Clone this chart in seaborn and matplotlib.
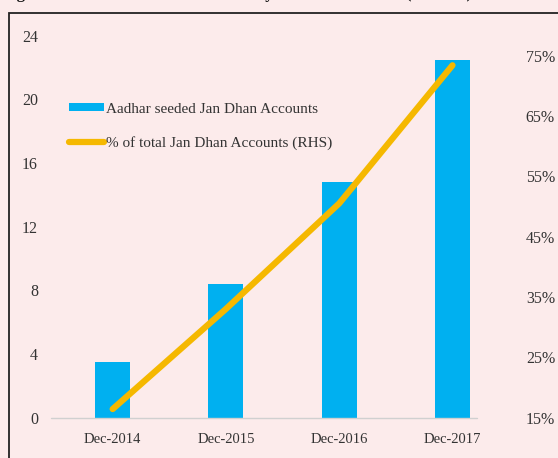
import numpy as np
import pandas as pd
import seaborn as sns
import matplotlib.pyplot as plt
from matplotlib.lines import Line2D
from matplotlib.patches import Patch, Rectangle
from matplotlib.ticker import FuncFormatter

# data
periods = ["Dec-2014", "Dec-2015", "Dec-2016", "Dec-2017"]
seeded_crore = [3.5, 8.4, 14.8, 22.5]
pct_of_total = [16.4, 33.0, 50.5, 73.4]
left_ticks = [0, 4, 8, 12, 16, 20, 24]
right_ticks = [15, 25, 35, 45, 55, 65, 75]

BG = "#FCEBEB"
BLUE = "#00B0F0"
GOLD = "#F5B800"
TXT = "#333333"

sns.set_theme(style="white")
plt.rcParams["font.family"] = ["Liberation Serif", "DejaVu Serif"]
plt.rcParams["text.color"] = TXT

df = pd.DataFrame({"period": periods, "seeded": seeded_crore, "pct": pct_of_total})
df["pos"] = np.arange(len(df))

fig = plt.figure(figsize=(5.58, 4.58), dpi=100, facecolor=BG)
ax = fig.add_axes([0.1004, 0.0884, 0.812, 0.8336])
ax.set_facecolor(BG)

sns.barplot(data=df, x="pos", y="seeded", color=BLUE, saturation=1,
            width=0.31, ax=ax, native_scale=True, linewidth=0)
ax.set_xlim(-0.5, len(df) - 0.5)
ax.set_ylim(0, 24)
ax.set_yticks(left_ticks)
ax.set_xticks(df["pos"])
ax.set_xticklabels(periods)
ax.set_xlabel("")
ax.set_ylabel("")
for s in ax.spines.values():
    s.set_visible(False)
ax.axhline(0, xmin=-0.01, xmax=0.93, color="#D0D0D0", lw=1, clip_on=False)
ax.tick_params(axis="y", length=0, pad=13, labelsize=11.5, labelcolor=TXT)
ax.tick_params(axis="x", length=0, pad=11, labelsize=10.5, labelcolor=TXT)

ax2 = ax.twinx()
sns.lineplot(data=df, x="pos", y="pct", color=GOLD, lw=4.5, ax=ax2,
             solid_capstyle="round")
ax2.set_ylim(15, 78.3)
ax2.set_yticks(right_ticks)
ax2.yaxis.set_major_formatter(FuncFormatter(lambda v, p: f"{v:.0f}%"))
ax2.set_ylabel("")
ax2.set_xlabel("")
for s in ax2.spines.values():
    s.set_visible(False)
ax2.tick_params(axis="y", length=0, pad=12, labelsize=11.5, labelcolor=TXT)

handles = [Patch(facecolor=BLUE, edgecolor="none"),
           Line2D([0], [0], color=GOLD, lw=4.5, solid_capstyle="round")]
labels = ["Aadhar seeded Jan Dhan Accounts", "% of total Jan Dhan Accounts (RHS)"]
fig.legend(handles, labels, loc="upper left", bbox_to_anchor=(0.124, 0.776),
           frameon=False, fontsize=11, handlelength=2.3, handleheight=0.45,
           handletextpad=0.1, labelspacing=1.35, borderpad=0, borderaxespad=0)

# outer frame of the exhibit (cut off at right and bottom)
fig.patches.append(Rectangle((9.3 / 558, -0.05), 1.2, 1 - 13.3 / 458 + 0.05,
                             transform=fig.transFigure, fill=False,
                             edgecolor="#222222", lw=1.3))
# title sitting just above the crop, as in the reference
fig.text(0.004, 1.0 + 2 / 458, "Figure 9: Aadhaar seeded Accounts by Month and Share (in crore)",
         fontsize=12, fontweight="bold", va="baseline", ha="left", color="#111111")

fig.savefig("out.png", dpi=100, facecolor=BG)
